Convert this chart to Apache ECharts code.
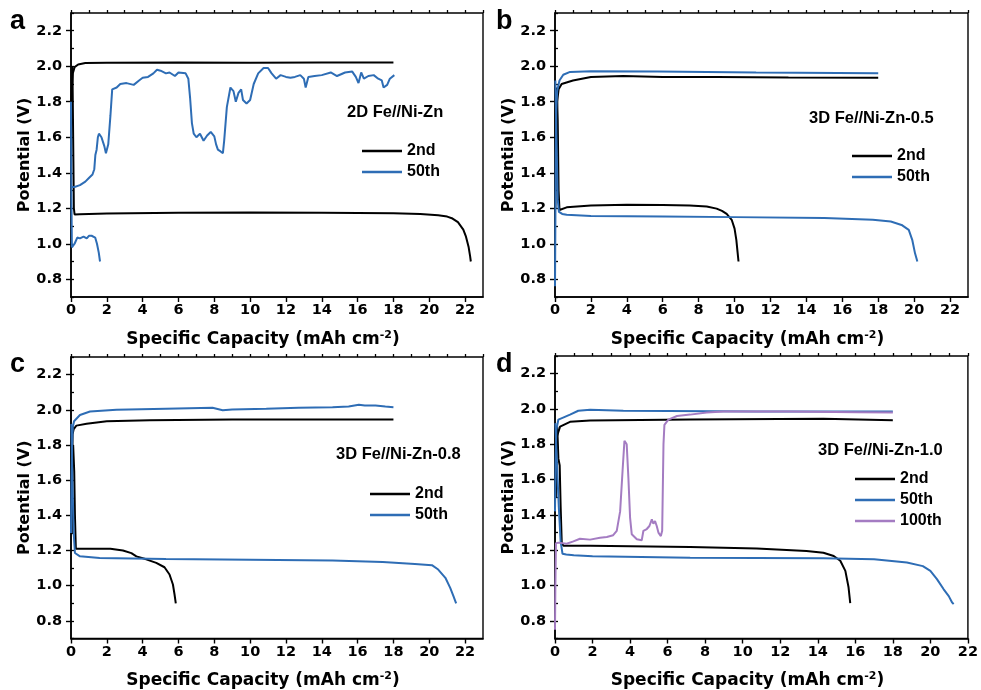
<!DOCTYPE html>
<html><head><meta charset="utf-8">
<script src="https://cdn.jsdelivr.net/npm/echarts@6/dist/echarts.min.js"></script>
<style>html,body{margin:0;padding:0;background:#fff}#c{width:981px;height:690px}</style>
</head><body><div id="c"></div>
<script>
// ---------- DATA (Specific capacity mAh cm^-2, Potential V) ----------
const xTicksMajor = [0,2,4,6,8,10,12,14,16,18,20,22];
const yTicksMajor = [0.8,1.0,1.2,1.4,1.6,1.8,2.0,2.2];
const panelLetters = ['a','b','c','d'];
const panelNotes = ['2D Fe//Ni-Zn','3D Fe//Ni-Zn-0.5','3D Fe//Ni-Zn-0.8','3D Fe//Ni-Zn-1.0'];
const cycleNames = ['2nd','50th','100th'];
const xMaxes = [23,23,23,22];

// panel a
const a2ndCharge = [[0,1.76],[0.05,1.88],[0.1,1.96],[0.2,1.995],[0.4,2.01],[0.8,2.018],[2,2.02],[6,2.021],[10,2.02],[14,2.021],[18,2.021]];
const a2ndDischarge = [[0.08,2.0],[0.12,1.6],[0.16,1.2],[0.2,1.165],[0.5,1.166],[2,1.17],[6,1.175],[10,1.176],[14,1.175],[18,1.172],[19.5,1.167],[20.5,1.16],[21,1.153],[21.3,1.142],[21.6,1.122],[21.9,1.08],[22.05,1.04],[22.2,0.98],[22.28,0.93],[22.32,0.9]];
const a50thCharge = [[0,1.32],[0.2,1.32],[0.5,1.33],[0.8,1.35],[1.0,1.37],[1.2,1.39],[1.3,1.42],[1.36,1.5],[1.43,1.53],[1.5,1.6],[1.56,1.62],[1.7,1.6],[1.86,1.55],[1.95,1.51],[2.08,1.56],[2.2,1.72],[2.3,1.87],[2.4,1.88],[2.55,1.88],[2.75,1.9],[3.1,1.905],[3.5,1.895],[3.8,1.92],[4.0,1.935],[4.3,1.94],[4.6,1.96],[4.8,1.98],[5.0,1.975],[5.3,1.96],[5.5,1.965],[5.8,1.945],[6.0,1.965],[6.4,1.96],[6.55,1.93],[6.65,1.82],[6.75,1.68],[6.85,1.62],[7.0,1.6],[7.2,1.62],[7.4,1.58],[7.6,1.61],[7.8,1.63],[8.0,1.605],[8.1,1.56],[8.2,1.53],[8.35,1.52],[8.48,1.51],[8.55,1.58],[8.7,1.77],[8.9,1.88],[9.07,1.86],[9.2,1.8],[9.35,1.85],[9.5,1.87],[9.6,1.81],[9.8,1.79],[10.0,1.81],[10.2,1.9],[10.45,1.96],[10.75,1.99],[11.0,1.99],[11.2,1.96],[11.45,1.93],[11.7,1.95],[12.0,1.94],[12.25,1.935],[12.5,1.94],[12.8,1.95],[13.0,1.93],[13.1,1.88],[13.25,1.94],[13.6,1.945],[14.0,1.95],[14.5,1.965],[14.85,1.945],[15.3,1.965],[15.7,1.97],[15.9,1.94],[16.05,1.905],[16.2,1.965],[16.35,1.93],[16.6,1.945],[16.9,1.95],[17.15,1.93],[17.35,1.92],[17.45,1.88],[17.65,1.895],[17.8,1.93],[17.9,1.94],[18.05,1.95]];
const a50thDischarge = [[0,1.8],[0.02,1.3],[0.05,0.98],[0.2,1.0],[0.35,1.035],[0.5,1.03],[0.7,1.04],[0.88,1.03],[1.0,1.045],[1.15,1.045],[1.35,1.035],[1.45,1.0],[1.55,0.95],[1.62,0.9]];

// panel b
const b2ndCharge = [[0.02,1.2],[0.08,1.6],[0.12,1.8],[0.2,1.87],[0.37,1.9],[1.0,1.92],[2,1.94],[3.8,1.945],[6,1.94],[9,1.94],[13,1.937],[18,1.935]];
const b2ndDischarge = [[0.1,1.88],[0.15,1.7],[0.2,1.3],[0.25,1.19],[0.35,1.195],[0.65,1.205],[2,1.215],[4,1.22],[6,1.218],[7.5,1.215],[8.45,1.21],[9.0,1.198],[9.3,1.185],[9.56,1.168],[9.84,1.135],[10.0,1.085],[10.1,1.02],[10.17,0.95],[10.22,0.9]];
const b50thCharge = [[0,0.76],[0.02,1.1],[0.04,1.5],[0.07,1.75],[0.12,1.86],[0.25,1.92],[0.46,1.952],[0.84,1.968],[2,1.972],[5.7,1.97],[11.2,1.965],[18,1.96]];
const b50thDischarge = [[0.02,1.92],[0.08,1.6],[0.15,1.25],[0.22,1.18],[0.4,1.168],[0.65,1.163],[2,1.157],[6,1.153],[10,1.15],[15,1.145],[17.7,1.135],[18.7,1.125],[19.3,1.106],[19.7,1.078],[19.9,1.02],[20.05,0.946],[20.18,0.9]];

// panel c
const c2ndCharge = [[0.05,1.3],[0.07,1.7],[0.09,1.86],[0.15,1.89],[0.3,1.91],[0.87,1.92],[2,1.935],[4.4,1.94],[9,1.945],[18,1.945]];
const c2ndDischarge = [[0.12,1.8],[0.18,1.65],[0.22,1.4],[0.27,1.21],[0.5,1.21],[2.2,1.21],[2.9,1.2],[3.37,1.185],[3.65,1.167],[4.2,1.15],[4.76,1.13],[5.22,1.105],[5.5,1.064],[5.69,1.007],[5.78,0.95],[5.85,0.9]];
const c50thCharge = [[0,1.3],[0.03,1.6],[0.06,1.8],[0.1,1.9],[0.17,1.935],[0.5,1.97],[1.06,1.99],[2.54,2.0],[5.3,2.006],[7.9,2.012],[8.47,1.997],[9,2.002],[10.9,2.006],[12.7,2.012],[14.6,2.015],[15.5,2.019],[16.07,2.028],[16.4,2.024],[17,2.024],[17.55,2.019],[18,2.015]];
const c50thDischarge = [[0.02,1.92],[0.08,1.6],[0.15,1.3],[0.22,1.186],[0.5,1.167],[1.6,1.158],[5.3,1.152],[10,1.148],[14.6,1.143],[17.4,1.135],[19.2,1.124],[20.15,1.117],[20.5,1.092],[20.9,1.045],[21.17,0.988],[21.35,0.941],[21.5,0.9]];

// panel d
const d2ndCharge = [[0.05,1.5],[0.07,1.75],[0.09,1.84],[0.27,1.9],[0.8,1.927],[1.87,1.934],[7.2,1.94],[14.3,1.944],[18,1.936]];
const d2ndDischarge = [[0.12,1.9],[0.18,1.72],[0.25,1.68],[0.3,1.45],[0.36,1.24],[0.45,1.226],[1.87,1.226],[7.2,1.218],[10.75,1.21],[13.4,1.196],[14.3,1.186],[14.85,1.167],[15.2,1.14],[15.47,1.083],[15.64,0.99],[15.73,0.9]];
const d50thCharge = [[0,1.42],[0.03,1.7],[0.07,1.88],[0.18,1.94],[0.4,1.95],[0.8,1.968],[1.24,1.99],[1.87,1.995],[3.64,1.99],[10.75,1.985],[18,1.985]];
const d50thDischarge = [[0.02,1.92],[0.1,1.7],[0.2,1.45],[0.3,1.25],[0.4,1.18],[0.6,1.176],[1,1.172],[2,1.166],[7.2,1.158],[14.3,1.154],[17,1.149],[18.75,1.13],[19.6,1.11],[20.0,1.083],[20.35,1.036],[20.7,0.98],[20.98,0.94],[21.15,0.905],[21.24,0.895]];
const d100thCharge = [[0,0.75],[0.02,1.0],[0.05,1.24],[0.18,1.243],[0.62,1.237],[0.98,1.25],[1.33,1.265],[1.87,1.26],[2.4,1.27],[2.76,1.275],[3.1,1.285],[3.29,1.31],[3.47,1.42],[3.6,1.65],[3.7,1.82],[3.82,1.8],[3.91,1.61],[4.0,1.385],[4.09,1.29],[4.36,1.262],[4.62,1.256],[4.71,1.31],[4.89,1.32],[5.03,1.337],[5.16,1.375],[5.24,1.35],[5.33,1.365],[5.42,1.337],[5.51,1.3],[5.64,1.28],[5.71,1.31],[5.78,1.8],[5.83,1.91],[6.04,1.94],[6.5,1.96],[7.2,1.968],[8.09,1.98],[8.98,1.985],[12.5,1.985],[16.1,1.982],[18,1.98]];

const panelSeries = [
  [[a2ndCharge,a2ndDischarge],[a50thCharge,a50thDischarge]],
  [[b2ndCharge,b2ndDischarge],[b50thCharge,b50thDischarge]],
  [[c2ndCharge,c2ndDischarge],[c50thCharge,c50thDischarge]],
  [[d2ndCharge,d2ndDischarge],[d50thCharge,d50thDischarge],[d100thCharge]]
];

// ---------- STYLE / LAYOUT ----------
const colors = ['#000000','#2e6db5','#a47cc2'];
const layout = [
  {left:71, top:13, width:412, height:284, letter:[10,8], note:[347,104], legend:[362,143], nameGap:33},
  {left:555, top:13, width:413, height:284, letter:[496,8], note:[809,110], legend:[852,148], nameGap:33},
  {left:71, top:357, width:412, height:282, letter:[10,351], note:[336,446], legend:[370,486], nameGap:32},
  {left:555, top:356, width:413, height:284, letter:[496,351], note:[818,442], legend:[855,471], nameGap:32}
];
const tickFont = {fontFamily:'DejaVu Sans', fontWeight:'bold', fontSize:14.5, color:'#000'};
const titleFont = 'DejaVu Sans';
const labelFont = 'Liberation Sans';

const option = {animation:false, backgroundColor:'#fff', grid:[], xAxis:[], yAxis:[], series:[], legend:[], title:[]};

layout.forEach((L, g) => {
  option.grid.push({left:L.left, top:L.top, width:L.width, height:L.height, show:true, borderColor:'#000', borderWidth:1.4, containLabel:false});
  // major x
  option.xAxis.push({type:'value', gridIndex:g, min:0, max:xMaxes[g], interval:2,
    axisLine:{show:true, onZero:false, lineStyle:{color:'#000', width:1.6}},
    axisTick:{show:true, inside:false, length:5, lineStyle:{color:'#000', width:1.4}},
    axisLabel:Object.assign({margin:6, showMaxLabel: xMaxes[g] % 2 === 0, formatter:v => xTicksMajor.includes(v) ? String(v) : ''}, tickFont),
    splitLine:{show:false},
    name:'{b|Specific Capacity (mAh cm}{s|-2}{b|)}', nameLocation:'middle', nameGap:L.nameGap,
    nameTextStyle:{padding:[0,28,0,0], rich:{b:{fontFamily:titleFont, fontWeight:'bold', fontSize:17, lineHeight:20, color:'#000'}, s:{fontFamily:titleFont, fontWeight:'bold', fontSize:11, lineHeight:11, verticalAlign:'top', color:'#000'}}}
  });
  // minor x
  option.xAxis.push({type:'value', gridIndex:g, min:0, max:xMaxes[g], interval:1,
    axisLine:{show:false}, axisLabel:{show:false}, splitLine:{show:false},
    axisTick:{show:true, inside:false, length:3, lineStyle:{color:'#000', width:1.3}}});
  // major y
  option.yAxis.push({type:'value', gridIndex:g, min:0.7, max:2.3, splitNumber:8,
    axisLine:{show:true, onZero:false, lineStyle:{color:'#000', width:1.6}},
    axisTick:{show:true, inside:false, length:5, lineStyle:{color:'#000', width:1.4}},
    axisLabel:Object.assign({margin:9, showMinLabel:false, showMaxLabel:false, formatter:v => yTicksMajor.some(t => Math.abs(t-v)<1e-6) ? v.toFixed(1) : ''}, tickFont),
    splitLine:{show:false},
    name:'Potential (V)', nameLocation:'middle', nameGap:38,
    nameTextStyle:{fontFamily:titleFont, fontWeight:'bold', fontSize:16, color:'#000'}
  });
  // minor y
  option.yAxis.push({type:'value', gridIndex:g, min:0.7, max:2.3, interval:0.1,
    axisLine:{show:false}, axisLabel:{show:false}, splitLine:{show:false},
    axisTick:{show:true, inside:false, length:3, lineStyle:{color:'#000', width:1.3}}});

  const names = [];
  panelSeries[g].forEach((arrs, k) => {
    names.push(cycleNames[k]);
    arrs.forEach(arr => {
      option.series.push({type:'line', name:cycleNames[k], xAxisIndex:2*g, yAxisIndex:2*g, data:arr,
        symbol:'none', showSymbol:false, smooth:false, clip:true,
        lineStyle:{color:colors[k], width:2}, itemStyle:{color:colors[k]}});
    });
  });
  option.legend.push({show:true, orient:'vertical', left:L.legend[0], top:L.legend[1], padding:0,
    icon:'rect', itemWidth:40, itemHeight:2.4, itemGap:5,
    data:names.map(n => ({name:n})),
    textStyle:{fontFamily:labelFont, fontWeight:'bold', fontSize:16, lineHeight:16, color:'#000'}});
  option.title.push({text:panelLetters[g], left:L.letter[0], top:L.letter[1], padding:0,
    textStyle:{fontFamily:labelFont, fontWeight:'bold', fontSize:27, color:'#000'}});
  option.title.push({text:panelNotes[g], left:L.note[0], top:L.note[1], padding:0,
    textStyle:{fontFamily:labelFont, fontWeight:'bold', fontSize:16.5, color:'#000'}});
});

const chart = echarts.init(document.getElementById('c'), null, {renderer:'canvas'});
chart.setOption(option);
</script></body></html>
